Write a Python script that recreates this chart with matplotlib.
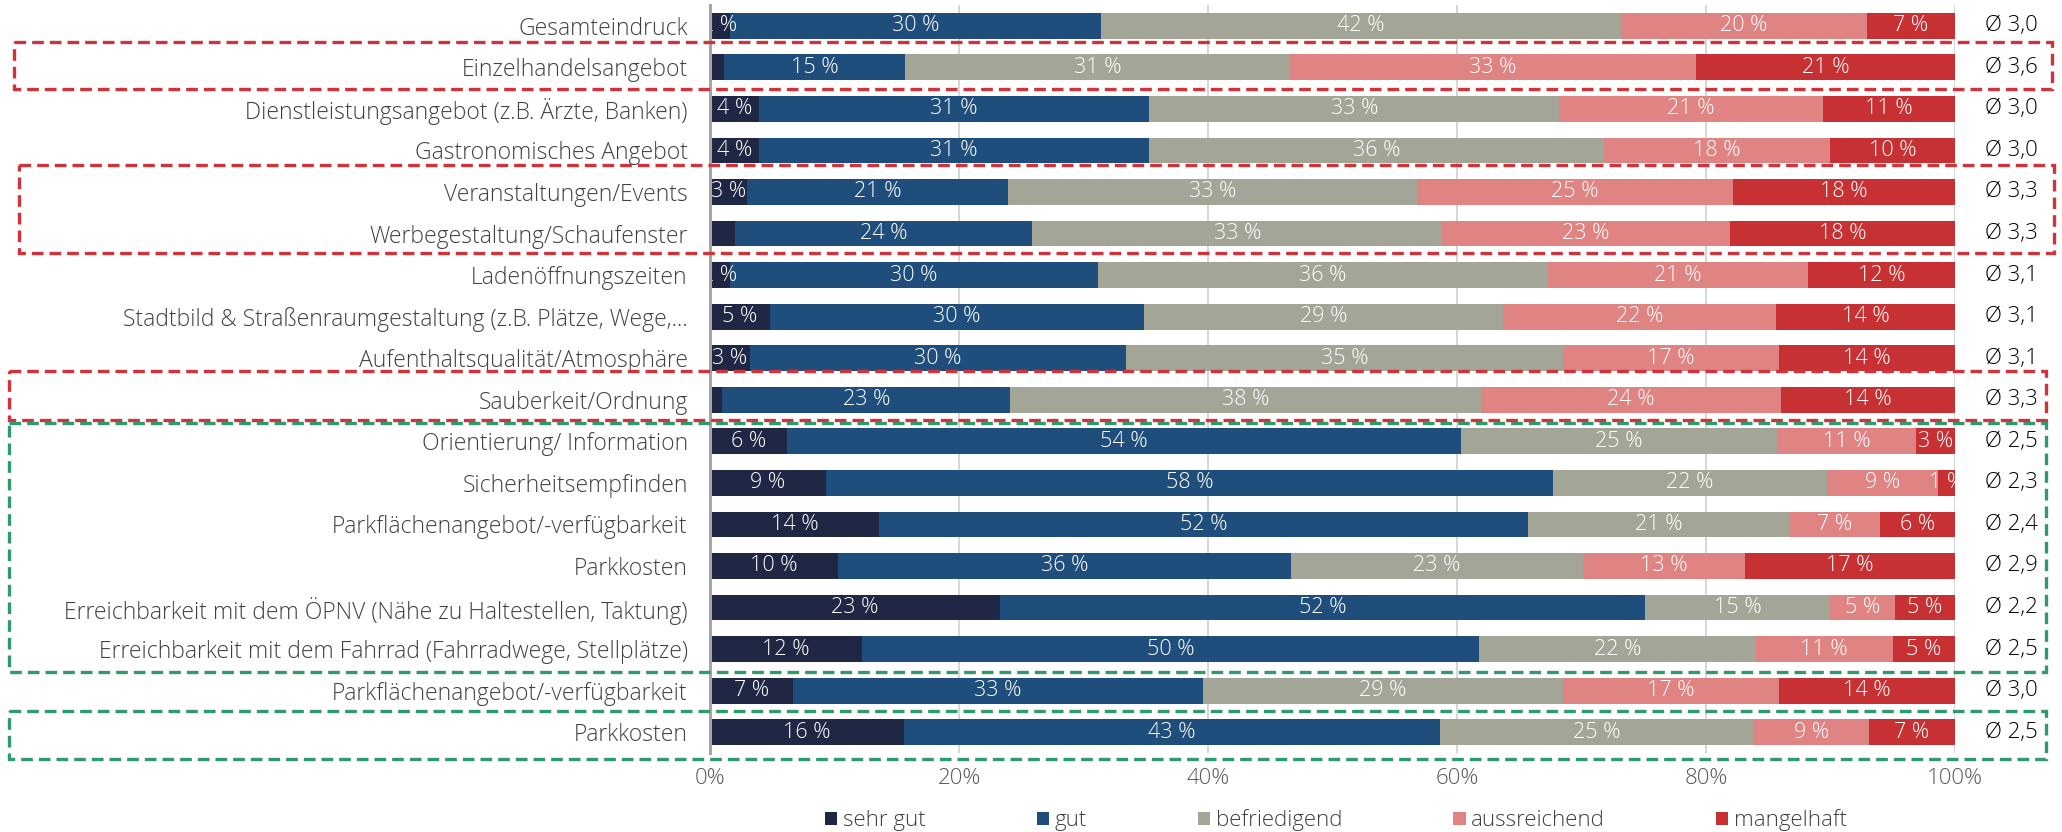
#!/usr/bin/env python3
"""
Bewertung der Innenstadt - gestapeltes 100%-Balkendiagramm
"""

import matplotlib
matplotlib.use('Agg')
import matplotlib.pyplot as plt
import matplotlib.patches as mpatches
from matplotlib.transforms import blended_transform_factory

plt.rcParams['font.family'] = ['Open Sans', 'DejaVu Sans']
plt.rcParams['font.weight'] = 'light'

# Data
categories = [
    'Gesamteindruck',
    'Einzelhandelsangebot',
    'Dienstleistungsangebot (z.B. Ärzte, Banken)',
    'Gastronomisches Angebot',
    'Veranstaltungen/Events',
    'Werbegestaltung/Schaufenster',
    'Ladenöffnungszeiten',
    'Stadtbild & Straßenraumgestaltung (z.B. Plätze, Wege,...',
    'Aufenthaltsqualität/Atmosphäre',
    'Sauberkeit/Ordnung',
    'Orientierung/ Information',
    'Sicherheitsempfinden',
    'Parkflächenangebot/-verfügbarkeit',
    'Parkkosten',
    'Erreichbarkeit mit dem ÖPNV (Nähe zu Haltestellen, Taktung)',
    'Erreichbarkeit mit dem Fahrrad (Fahrradwege, Stellplätze)',
    'Parkflächenangebot/-verfügbarkeit',
    'Parkkosten',
]

series_names = ['sehr gut', 'gut', 'befriedigend', 'aussreichend', 'mangelhaft']

sehr_gut = [1.6, 1.1, 3.9, 3.9, 3.0, 2.0, 1.6, 4.8, 3.2, 1.0,
            6.2, 9.3, 13.6, 10.3, 23.3, 12.2, 6.7, 15.6]
gut = [29.8, 14.6, 31.4, 31.4, 20.9, 23.9, 29.6, 30.1, 30.2, 23.1,
       54.1, 58.4, 52.1, 36.4, 51.8, 49.6, 32.9, 43.0]
befriedigend = [41.8, 30.9, 32.9, 36.5, 32.9, 32.9, 36.1, 28.8, 35.1, 37.8,
                25.4, 22.0, 21.0, 23.4, 14.9, 22.2, 28.9, 25.2]
aussreichend = [19.7, 32.6, 21.2, 18.2, 25.4, 23.1, 20.9, 21.9, 17.4, 24.1,
                11.2, 8.9, 7.3, 13.0, 5.2, 11.0, 17.4, 9.3]
mangelhaft = [7.1, 20.8, 10.6, 10.0, 17.8, 18.1, 11.8, 14.4, 14.1, 14.0,
              3.1, 1.4, 6.0, 16.9, 4.8, 5.0, 14.1, 6.9]

# rows whose "sehr gut" label is not shown
hidden_sehr_gut = [1, 5, 9]

averages = ['3,0', '3,6', '3,0', '3,0', '3,3', '3,3', '3,1', '3,1', '3,1', '3,3',
            '2,5', '2,3', '2,4', '2,9', '2,2', '2,5', '3,0', '2,5']

colors = ['#1f2744', '#1f4e7d', '#a3a597', '#e08383', '#c83133']

# (first row, last row, colour, pad top, pad bottom, x left, x right) in figure fraction
red = '#d0343a'
green = '#2f9a6c'
boxes = [
    (1, 1, red, 0.61, 0.53, 0.007, 0.995),
    (4, 5, red, 0.64, 0.48, 0.009, 0.996),
    (9, 9, red, 0.69, 0.49, 0.0045, 0.992),
    (10, 15, green, 0.43, 0.56, 0.0045, 0.992),
    (17, 17, green, 0.50, 0.64, 0.0045, 0.992),
]

FS = 16

# Figure
fig = plt.figure(figsize=(20.62, 8.32), dpi=100, facecolor='white')
ax = fig.add_axes([0.3443, 0.095, 0.6038, 0.899])

y = list(range(len(categories)))
series = [sehr_gut, gut, befriedigend, aussreichend, mangelhaft]
left = [0.0] * len(categories)
for name, vals, col in zip(series_names, series, colors):
    ax.barh(y, vals, left=left, height=0.62, color=col, label=name, linewidth=0, zorder=3)
    for i, (l, v) in enumerate(zip(left, vals)):
        if name == 'sehr gut' and i in hidden_sehr_gut:
            continue
        ax.text(l + v / 2, i, f'{round(v):d} %', ha='center', va='center',
                color='white', fontsize=FS - 0.5, clip_on=True, zorder=4)
    left = [l + v for l, v in zip(left, vals)]

ax.set_xlim(0, 100)
ax.set_ylim(len(categories) - 0.5, -0.5)

ax.set_yticks(y)
ax.set_yticklabels(categories, fontsize=FS + 0.5, color='#404040')
ax.set_xticks([0, 20, 40, 60, 80, 100])
ax.set_xticklabels(['0%', '20%', '40%', '60%', '80%', '100%'], fontsize=FS, color='#595959')
ax.tick_params(axis='y', length=0, pad=16)
ax.tick_params(axis='x', length=0, pad=11)

# Grid
ax.grid(True, axis='x', color='#d0d0d0', linewidth=1.2, zorder=0)
ax.set_axisbelow(True)
for s in ['top', 'right', 'bottom']:
    ax.spines[s].set_visible(False)
ax.spines['left'].set_color('#a6a6a6')
ax.spines['left'].set_linewidth(2.2)
ax.spines['left'].set_zorder(5)

# Averages
tr = blended_transform_factory(ax.transAxes, ax.transData)
for i, a in enumerate(averages):
    ax.text(1.045, i, f'Ø {a}', transform=tr, ha='center', va='center',
            fontsize=FS, color='black')

# Dashed highlight boxes
trf = blended_transform_factory(fig.transFigure, ax.transData)
for r0, r1, col, pt, pb, x0, x1 in boxes:
    rect = mpatches.Rectangle((x0, r0 - pt), x1 - x0, (r1 + pb) - (r0 - pt),
                              transform=trf, fill=False, edgecolor=col,
                              linewidth=2.4, linestyle=(0, (3.5, 1.8)),
                              clip_on=False, zorder=6)
    fig.add_artist(rect)

# Legend
leg = fig.legend(loc='center', bbox_to_anchor=(0.648, 0.014), ncol=5, frameon=False,
                 fontsize=FS, handlelength=0.55, handleheight=0.55, handletextpad=0.25,
                 columnspacing=5.0, labelcolor='#404040')

plt.savefig('out.png', dpi=100, facecolor='white')
plt.close()
